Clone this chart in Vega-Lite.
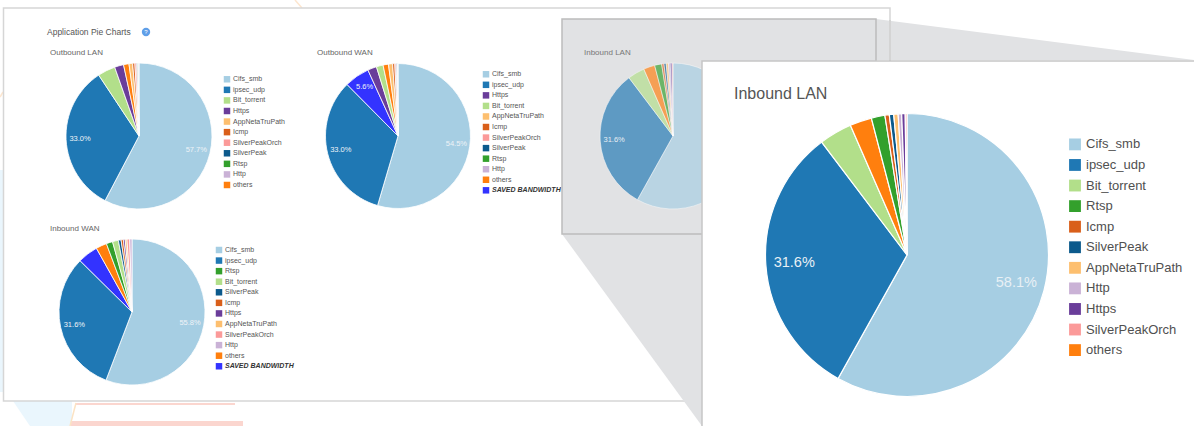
{
"$schema":"https://vega.github.io/schema/vega-lite/v6.json",
"width":1194,"height":426,"padding":0,
"autosize":{"type":"none"},
"background":"#ffffff",
"config":{"view":{"stroke":null},"axis":{"disable":true},"legend":{"disable":true},"text":{"font":"Liberation Sans"}},
"data":{"values":[{}]},
"datasets":{
"wedges":[
{"part":"right","px":876,"top":19,"bottom":60},{"part":"right","px":1194,"top":60,"bottom":60},
{"part":"left","px":562,"top":234,"bottom":234},{"part":"left","px":702,"top":234,"bottom":426},
{"part":"blue","px":13,"top":401,"bottom":401},{"part":"blue","px":30,"top":401,"bottom":426},{"part":"blue","px":72,"top":401,"bottom":426}],
"slices":[
{"chart":"Outbound LAN","name":"Cifs_smb","value":57.7,"label":"57.7%","slice":0,"rank":0},
{"chart":"Outbound LAN","name":"ipsec_udp","value":33.0,"label":"33.0%","slice":1,"rank":1},
{"chart":"Outbound LAN","name":"Bit_torrent","value":3.9,"label":"","slice":2,"rank":2},
{"chart":"Outbound LAN","name":"Https","value":2.0,"label":"","slice":3,"rank":3},
{"chart":"Outbound LAN","name":"others","value":1.2,"label":"","slice":4,"rank":10},
{"chart":"Outbound LAN","name":"AppNetaTruPath","value":0.8,"label":"","slice":5,"rank":4},
{"chart":"Outbound LAN","name":"Icmp","value":0.5,"label":"","slice":6,"rank":5},
{"chart":"Outbound LAN","name":"SilverPeakOrch","value":0.4,"label":"","slice":7,"rank":6},
{"chart":"Outbound LAN","name":"SilverPeak","value":0.2,"label":"","slice":8,"rank":7},
{"chart":"Outbound LAN","name":"Rtsp","value":0.15,"label":"","slice":9,"rank":8},
{"chart":"Outbound LAN","name":"Http","value":0.15,"label":"","slice":10,"rank":9},
{"chart":"Outbound WAN","name":"Cifs_smb","value":54.5,"label":"54.5%","slice":0,"rank":0},
{"chart":"Outbound WAN","name":"ipsec_udp","value":33.0,"label":"33.0%","slice":1,"rank":1},
{"chart":"Outbound WAN","name":"SAVED BANDWIDTH","value":5.6,"label":"5.6%","slice":2,"rank":11},
{"chart":"Outbound WAN","name":"Https","value":2.0,"label":"","slice":3,"rank":2},
{"chart":"Outbound WAN","name":"Bit_torrent","value":1.5,"label":"","slice":4,"rank":3},
{"chart":"Outbound WAN","name":"others","value":1.2,"label":"","slice":5,"rank":10},
{"chart":"Outbound WAN","name":"AppNetaTruPath","value":0.9,"label":"","slice":6,"rank":4},
{"chart":"Outbound WAN","name":"Icmp","value":0.5,"label":"","slice":7,"rank":5},
{"chart":"Outbound WAN","name":"SilverPeakOrch","value":0.3,"label":"","slice":8,"rank":6},
{"chart":"Outbound WAN","name":"SilverPeak","value":0.2,"label":"","slice":9,"rank":7},
{"chart":"Outbound WAN","name":"Rtsp","value":0.1,"label":"","slice":10,"rank":8},
{"chart":"Outbound WAN","name":"Http","value":0.1,"label":"","slice":11,"rank":9},
{"chart":"Inbound WAN","name":"Cifs_smb","value":55.8,"label":"55.8%","slice":0,"rank":0},
{"chart":"Inbound WAN","name":"ipsec_udp","value":31.6,"label":"31.6%","slice":1,"rank":1},
{"chart":"Inbound WAN","name":"SAVED BANDWIDTH","value":4.5,"label":"","slice":2,"rank":11},
{"chart":"Inbound WAN","name":"others","value":2.4,"label":"","slice":3,"rank":10},
{"chart":"Inbound WAN","name":"Rtsp","value":1.4,"label":"","slice":4,"rank":2},
{"chart":"Inbound WAN","name":"Bit_torrent","value":1.3,"label":"","slice":5,"rank":3},
{"chart":"Inbound WAN","name":"SilverPeak","value":0.6,"label":"","slice":6,"rank":4},
{"chart":"Inbound WAN","name":"Icmp","value":0.5,"label":"","slice":7,"rank":5},
{"chart":"Inbound WAN","name":"Https","value":0.4,"label":"","slice":8,"rank":6},
{"chart":"Inbound WAN","name":"AppNetaTruPath","value":0.4,"label":"","slice":9,"rank":7},
{"chart":"Inbound WAN","name":"SilverPeakOrch","value":0.6,"label":"","slice":10,"rank":8},
{"chart":"Inbound WAN","name":"Http","value":0.5,"label":"","slice":11,"rank":9},
{"chart":"Inbound LAN","name":"Cifs_smb","value":58.1,"label":"58.1%","slice":0,"rank":0},
{"chart":"Inbound LAN","name":"ipsec_udp","value":31.6,"label":"31.6%","slice":1,"rank":1},
{"chart":"Inbound LAN","name":"Bit_torrent","value":3.75,"label":"","slice":2,"rank":2},
{"chart":"Inbound LAN","name":"others","value":2.5,"label":"","slice":3,"rank":10},
{"chart":"Inbound LAN","name":"Rtsp","value":1.55,"label":"","slice":4,"rank":3},
{"chart":"Inbound LAN","name":"Icmp","value":0.5,"label":"","slice":5,"rank":4},
{"chart":"Inbound LAN","name":"SilverPeak","value":0.5,"label":"","slice":6,"rank":5},
{"chart":"Inbound LAN","name":"AppNetaTruPath","value":0.5,"label":"","slice":7,"rank":6},
{"chart":"Inbound LAN","name":"Http","value":0.4,"label":"","slice":8,"rank":7},
{"chart":"Inbound LAN","name":"Https","value":0.4,"label":"","slice":9,"rank":8},
{"chart":"Inbound LAN","name":"SilverPeakOrch","value":0.2,"label":"","slice":10,"rank":9}
]},
"resolve":{"scale":{"y":"independent"}},
"layer":[
{"layer":[
 {"mark":{"type":"rect","fill":"#eaf6fd"},"encoding":{"x":{"datum":0,"type":"quantitative","scale":{"domain":[0,1194],"nice":false,"zero":false}},"x2":{"datum":4},"y":{"datum":170,"type":"quantitative","scale":{"domain":[0,426],"reverse":true,"nice":false,"zero":false}},"y2":{"datum":392}}},
 {"data":{"name":"wedges"},"transform":[{"filter":"datum.part==='blue'"}],"mark":{"type":"area","orient":"vertical","fill":"#eaf6fd"},"encoding":{"x":{"field":"px","type":"quantitative"},"y":{"field":"top","type":"quantitative"},"y2":{"field":"bottom"}}},
 {"mark":{"type":"rect","fill":"#fbd6cf"},"encoding":{"x":{"datum":76},"x2":{"datum":235},"y":{"datum":403},"y2":{"datum":405}}},
 {"mark":{"type":"rect","fill":"#fbd6cf"},"encoding":{"x":{"datum":71},"x2":{"datum":243},"y":{"datum":421},"y2":{"datum":426}}},
 {"mark":{"type":"rule","stroke":"#fbe3c4","strokeWidth":1.5},"encoding":{"x":{"datum":76},"x2":{"datum":70},"y":{"datum":403},"y2":{"datum":426}}},
 {"mark":{"type":"rule","stroke":"#fde6cf","strokeWidth":1.5},"encoding":{"x":{"datum":295},"x2":{"datum":302},"y":{"datum":0},"y2":{"datum":8}}},
 {"mark":{"type":"rule","stroke":"#fde6cf","strokeWidth":1.5},"encoding":{"x":{"datum":0},"x2":{"datum":3},"y":{"datum":97},"y2":{"datum":92}}},
 {"mark":{"type":"rect","fill":"#ffffff","stroke":"#d6d6d6","strokeWidth":1.5},"encoding":{"x":{"datum":3.5},"x2":{"datum":890},"y":{"datum":8},"y2":{"datum":401}}},
 {"mark":{"type":"text","align":"left","baseline":"middle","fontSize":8.5,"fill":"#555555","text":"Application Pie Charts"},"encoding":{"x":{"datum":47},"y":{"datum":32}}},
 {"mark":{"type":"point","shape":"circle","filled":true,"size":70,"fill":"#5f9fe8","opacity":1},"encoding":{"x":{"datum":146},"y":{"datum":32}}},
 {"mark":{"type":"text","align":"center","baseline":"middle","fontSize":6,"fill":"#ffffff","text":"?"},"encoding":{"x":{"datum":146},"y":{"datum":32}}},
 {"mark":{"type":"text","align":"left","baseline":"middle","fontSize":8,"fill":"#666666","text":"Outbound LAN"},"encoding":{"x":{"datum":50},"y":{"datum":53}}},
 {"mark":{"type":"text","align":"left","baseline":"middle","fontSize":8,"fill":"#666666","text":"Outbound WAN"},"encoding":{"x":{"datum":317},"y":{"datum":53}}},
 {"mark":{"type":"text","align":"left","baseline":"middle","fontSize":8,"fill":"#666666","text":"Inbound WAN"},"encoding":{"x":{"datum":50},"y":{"datum":229}}},
 {"data":{"name":"slices"},"transform":[{"filter":"datum.chart==='Outbound LAN'"}],
  "encoding":{"x":{"datum":139},"y":{"datum":136},"theta":{"field":"value","type":"quantitative","stack":"normalize"},"order":{"field":"slice","type":"quantitative"}},
  "layer":[
   {"mark":{"type":"arc","radius":73,"stroke":"#ffffff","strokeWidth":0.8},"encoding":{"color":{"field":"name","type":"nominal","scale":{"domain":["Cifs_smb","ipsec_udp","Bit_torrent","Rtsp","Icmp","SilverPeak","AppNetaTruPath","Http","Https","SilverPeakOrch","others","SAVED BANDWIDTH"],"range":["#a6cee3","#1f78b4","#b2df8a","#33a02c","#d95f1a","#0c5a8c","#fdbf6f","#cab2d6","#6a3d9a","#fb9a99","#ff7f0e","#3333ff"]}}}},
   {"mark":{"type":"text","radius":59,"fontSize":7.5,"fill":"#eef3f7","align":"center","baseline":"middle"},"encoding":{"text":{"field":"label"},"detail":{"field":"name"}}}
  ]},
 {"data":{"name":"slices"},"transform":[{"filter":"datum.chart==='Outbound WAN'"}],
  "encoding":{"x":{"datum":398},"y":{"datum":136},"theta":{"field":"value","type":"quantitative","stack":"normalize"},"order":{"field":"slice","type":"quantitative"}},
  "layer":[
   {"mark":{"type":"arc","radius":72.5,"stroke":"#ffffff","strokeWidth":0.8},"encoding":{"color":{"field":"name","type":"nominal"}}},
   {"mark":{"type":"text","radius":59,"fontSize":7.5,"fill":"#eef3f7","align":"center","baseline":"middle"},"encoding":{"text":{"field":"label"},"detail":{"field":"name"}}}
  ]},
 {"data":{"name":"slices"},"transform":[{"filter":"datum.chart==='Inbound WAN'"}],
  "encoding":{"x":{"datum":132},"y":{"datum":312},"theta":{"field":"value","type":"quantitative","stack":"normalize"},"order":{"field":"slice","type":"quantitative"}},
  "layer":[
   {"mark":{"type":"arc","radius":73,"stroke":"#ffffff","strokeWidth":0.8},"encoding":{"color":{"field":"name","type":"nominal"}}},
   {"mark":{"type":"text","radius":59,"fontSize":7.5,"fill":"#eef3f7","align":"center","baseline":"middle"},"encoding":{"text":{"field":"label"},"detail":{"field":"name"}}}
  ]}
]},
{"data":{"name":"slices"},"transform":[{"filter":"datum.chart==='Outbound LAN'"}],
 "encoding":{"y":{"field":"rank","type":"quantitative","scale":{"domain":[-7.5,32.8],"reverse":true,"nice":false,"zero":false}}},
 "layer":[
  {"mark":{"type":"square","size":42,"opacity":1,"filled":true},"encoding":{"x":{"datum":227},"color":{"field":"name","type":"nominal"}}},
  {"mark":{"type":"text","align":"left","baseline":"middle","fontSize":7,"fill":"#555555"},"encoding":{"x":{"datum":233},"text":{"field":"name"}}}
 ]},
{"data":{"name":"slices"},"transform":[{"filter":"datum.chart==='Outbound WAN'"}],
 "encoding":{"y":{"field":"rank","type":"quantitative","scale":{"domain":[-7.04,33.34],"reverse":true,"nice":false,"zero":false}}},
 "layer":[
  {"mark":{"type":"square","size":42,"opacity":1,"filled":true},"encoding":{"x":{"datum":486},"color":{"field":"name","type":"nominal"}}},
  {"transform":[{"filter":"datum.name!=='SAVED BANDWIDTH'"}],"mark":{"type":"text","align":"left","baseline":"middle","fontSize":7,"fill":"#555555"},"encoding":{"x":{"datum":492},"text":{"field":"name"}}},
  {"transform":[{"filter":"datum.name==='SAVED BANDWIDTH'"}],"mark":{"type":"text","align":"left","baseline":"middle","fontSize":7,"fontStyle":"italic","fontWeight":"bold","fill":"#333333"},"encoding":{"x":{"datum":492},"text":{"field":"name"}}}
 ]},
{"data":{"name":"slices"},"transform":[{"filter":"datum.chart==='Inbound WAN'"}],
 "encoding":{"y":{"field":"rank","type":"quantitative","scale":{"domain":[-23.65,16.65],"reverse":true,"nice":false,"zero":false}}},
 "layer":[
  {"mark":{"type":"square","size":42,"opacity":1,"filled":true},"encoding":{"x":{"datum":219},"color":{"field":"name","type":"nominal"}}},
  {"transform":[{"filter":"datum.name!=='SAVED BANDWIDTH'"}],"mark":{"type":"text","align":"left","baseline":"middle","fontSize":7,"fill":"#555555"},"encoding":{"x":{"datum":225},"text":{"field":"name"}}},
  {"transform":[{"filter":"datum.name==='SAVED BANDWIDTH'"}],"mark":{"type":"text","align":"left","baseline":"middle","fontSize":7,"fontStyle":"italic","fontWeight":"bold","fill":"#333333"},"encoding":{"x":{"datum":225},"text":{"field":"name"}}}
 ]},
{"layer":[
 {"data":{"name":"wedges"},"transform":[{"filter":"datum.part==='right'"}],"mark":{"type":"area","orient":"vertical","fill":"#e1e2e4"},"encoding":{"x":{"field":"px","type":"quantitative"},"y":{"field":"top","type":"quantitative","scale":{"domain":[0,426],"reverse":true,"nice":false,"zero":false}},"y2":{"field":"bottom"}}},
 {"data":{"name":"wedges"},"transform":[{"filter":"datum.part==='left'"}],"mark":{"type":"area","orient":"vertical","fill":"#e1e2e4"},"encoding":{"x":{"field":"px","type":"quantitative"},"y":{"field":"top","type":"quantitative"},"y2":{"field":"bottom"}}},
 {"mark":{"type":"rule","stroke":"#cfcfcf","strokeWidth":1.5},"encoding":{"x":{"datum":890},"y":{"datum":20},"y2":{"datum":61}}},
 {"mark":{"type":"rect","fill":"#e1e2e4","stroke":"#bcbcbc","strokeWidth":1.5},"encoding":{"x":{"datum":562},"x2":{"datum":876},"y":{"datum":19},"y2":{"datum":234}}},
 {"mark":{"type":"text","align":"left","baseline":"middle","fontSize":8,"fill":"#777777","text":"Inbound LAN"},"encoding":{"x":{"datum":584},"y":{"datum":53}}},
 {"data":{"name":"slices"},"transform":[{"filter":"datum.chart==='Inbound LAN'"}],
  "encoding":{"x":{"datum":673},"y":{"datum":136},"theta":{"field":"value","type":"quantitative","stack":"normalize"},"order":{"field":"slice","type":"quantitative"}},
  "layer":[
   {"mark":{"type":"arc","radius":73,"stroke":"#ffffff","strokeWidth":0.6,"opacity":0.67},"encoding":{"color":{"field":"name","type":"nominal"}}},
   {"mark":{"type":"text","radius":59,"fontSize":7.5,"fill":"#e8eef3","align":"center","baseline":"middle"},"encoding":{"text":{"field":"label"},"detail":{"field":"name"}}}
  ]},
 {"mark":{"type":"rect","fill":"#ffffff","stroke":"#c6c6c6","strokeWidth":1.5},"encoding":{"x":{"datum":702},"x2":{"datum":1200},"y":{"datum":61},"y2":{"datum":432}}},
 {"mark":{"type":"text","align":"left","baseline":"middle","fontSize":16,"fill":"#555555","text":"Inbound LAN"},"encoding":{"x":{"datum":734},"y":{"datum":94}}},
 {"data":{"name":"slices"},"transform":[{"filter":"datum.chart==='Inbound LAN'"}],
  "encoding":{"x":{"datum":907},"y":{"datum":255},"theta":{"field":"value","type":"quantitative","stack":"normalize"},"order":{"field":"slice","type":"quantitative"}},
  "layer":[
   {"mark":{"type":"arc","radius":141.5,"stroke":"#ffffff","strokeWidth":1.2},"encoding":{"color":{"field":"name","type":"nominal"}}},
   {"mark":{"type":"text","radius":113,"fontSize":14.5,"fill":"#e8f0f5","align":"center","baseline":"middle"},"encoding":{"text":{"field":"label"},"detail":{"field":"name"}}}
  ]}
]},
{"data":{"name":"slices"},"transform":[{"filter":"datum.chart==='Inbound LAN'"}],
 "encoding":{"y":{"field":"rank","type":"quantitative","scale":{"domain":[-7.02,13.69],"reverse":true,"nice":false,"zero":false}}},
 "layer":[
  {"mark":{"type":"square","size":140,"opacity":1,"filled":true},"encoding":{"x":{"datum":1075},"color":{"field":"name","type":"nominal"}}},
  {"mark":{"type":"text","align":"left","baseline":"middle","fontSize":13,"fill":"#505050"},"encoding":{"x":{"datum":1086},"text":{"field":"name"}}}
 ]}
]
}
